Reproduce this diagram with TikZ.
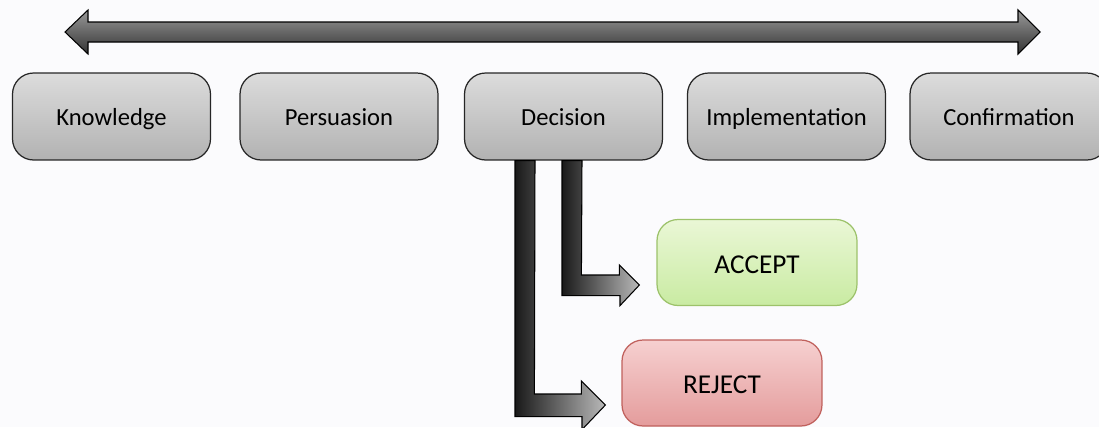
\documentclass[tikz,border=0pt]{standalone}
\usepackage{fontspec}
\setmainfont{Carlito}
\usetikzlibrary{calc}
\definecolor{boxtop}{HTML}{DCDCDC}
\definecolor{boxbot}{HTML}{B2B2B2}
\definecolor{acctop}{HTML}{EAF7D6}
\definecolor{accbot}{HTML}{C9EBA2}
\definecolor{accline}{HTML}{9CC26A}
\definecolor{rejtop}{HTML}{F6D0D0}
\definecolor{rejbot}{HTML}{E49C9C}
\definecolor{rejline}{HTML}{C0605C}
\definecolor{paper}{HTML}{FBFBFD}

\begin{document}
\begin{tikzpicture}[
    x=0.02cm, y=-0.02cm,
    stage/.style={draw=black!85, line width=0.7pt, rounded corners=12, top color=boxtop, bottom color=boxbot,
        minimum width=3.96cm, minimum height=1.74cm, text height=12.5pt, text depth=2pt,
        font=\fontsize{14}{16}\selectfont},
    result/.style={line width=0.7pt, rounded corners=12, minimum width=4cm, minimum height=1.72cm,
        text height=13.5pt, text depth=1pt, font=\fontsize{15.5}{18}\selectfont},
    fatarrow/.style={draw=black, line width=0.6pt, left color=black!90, right color=gray!55},
    bararrow/.style={draw=black, line width=0.6pt, top color=black!40, bottom color=black!80}
]
\clip (0,0) rectangle (1099,427);
\fill[paper] (0,0) rectangle (1099,427);

\path[bararrow] (65,32) -- (88,10) -- (88,22) -- (1018,22) -- (1018,10) -- (1040,32)
    -- (1018,54) -- (1018,42) -- (88,42) -- (88,54) -- cycle;

\node[stage] (know) at (111.5,116.5) {Knowledge};
\node[stage] (pers) at (339,116.5) {Persuasion};
\node[stage] (dec) at (563.5,116.5) {Decision};
\node[stage] (impl) at (786.5,116.5) {Implementation};
\node[stage] (conf) at (1009,116.5) {Confirmation};

\node[result, draw=accline, top color=acctop, bottom color=accbot] (acc) at (757,262.5) {ACCEPT};
\node[result, draw=rejline, top color=rejtop, bottom color=rejbot] (rej) at (722,383) {REJECT};

% decision branches
\path[fatarrow] ($(dec.south)+(-1.5,0)$) -- ++(0,135) -- ++(58,0) -- ++(0,10) -- ($(acc.west)+(-17,22.5)$)
    -- ++(-20,-20) -- ++(0,10) -- ++(-38,0) -- ($(dec.south)+(18.5,0)$) -- cycle;
\path[fatarrow] ($(dec.south)+(-48.5,0)$) -- ++(0,256) -- ++(67,0) -- ++(0,13) -- ($(rej.west)+(-16,22)$)
    -- ++(-24,-24) -- ++(0,13) -- ++(-47,0) -- ($(dec.south)+(-28.5,0)$) -- cycle;

\end{tikzpicture}
\end{document}
